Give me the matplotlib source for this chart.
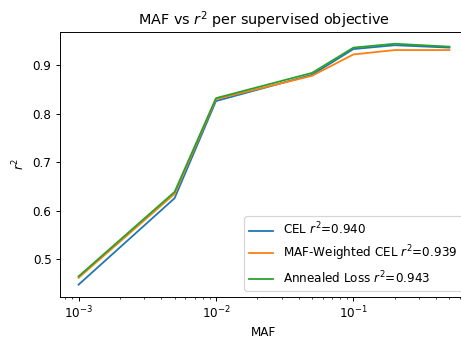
import numpy as np
import matplotlib
matplotlib.use("Agg")
import matplotlib.pyplot as plt

# MAF bins and r^2 per objective
maf = [0.001, 0.005, 0.01, 0.05, 0.1, 0.2, 0.5]
cel = [0.448, 0.626, 0.826, 0.880, 0.933, 0.941, 0.936]
maf_weighted = [0.462, 0.635, 0.830, 0.878, 0.922, 0.931, 0.931]
annealed = [0.465, 0.639, 0.832, 0.884, 0.936, 0.944, 0.938]

labels = ['CEL $r^2$=0.940', 'MAF-Weighted CEL $r^2$=0.939', 'Annealed Loss $r^2$=0.943']

dpi = 86.4
fig = plt.figure(figsize=(462/dpi, 341/dpi), dpi=dpi)
ax = fig.add_axes([60/462, 44.3/341, 408/462, 265/341])

ax.plot(maf, cel, label=labels[0])
ax.plot(maf, maf_weighted, label=labels[1])
ax.plot(maf, annealed, label=labels[2])
ax.set_xscale('log')

ax.set_title('MAF vs $r^2$ per supervised objective', fontsize=12)
ax.set_xlabel('MAF')
ax.set_ylabel('$r^2$')
ax.set_yticks([0.5, 0.6, 0.7, 0.8, 0.9])
ax.legend(loc='lower right')

plt.savefig('out.png', dpi=dpi)
